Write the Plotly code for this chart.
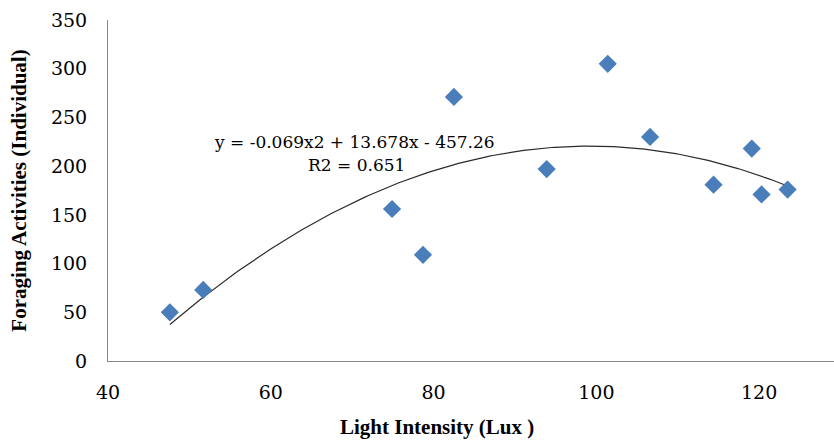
import numpy as np
import plotly.graph_objects as go

# Data
light_lux = [47.6, 51.7, 74.9, 78.7, 82.5, 93.9, 101.4, 106.6, 114.4, 119.1, 120.3, 123.5]
foraging = [50, 73, 156, 109, 271, 197, 305, 230, 181, 218, 171, 176]

# Polynomial trendline (order 2) as reported on the chart
trend_coeffs = [-0.069, 13.678, -457.26]
r_squared = 0.651

x_ticks = [40, 60, 80, 100, 120]
y_ticks = [0, 50, 100, 150, 200, 250, 300, 350]

xt = np.linspace(min(light_lux), max(light_lux), 200)
yt = np.polyval(trend_coeffs, xt)

fig = go.Figure()
fig.add_trace(go.Scatter(
    x=xt, y=yt, mode="lines",
    line=dict(color="#2b2b2b", width=1.2),
    hoverinfo="skip", showlegend=False,
))
fig.add_trace(go.Scatter(
    x=light_lux, y=foraging, mode="markers",
    marker=dict(symbol="diamond", size=14, color="#4A7EBB", line=dict(width=0)),
    showlegend=False,
))

eq_text = "y = %gx2 + %gx - %g" % (trend_coeffs[0], trend_coeffs[1], -trend_coeffs[2])
r2_text = "R2 = %g" % r_squared

fig.add_annotation(x=70.3, y=225, xref="x", yref="y", text=eq_text, showarrow=False,
                   font=dict(family="DejaVu Serif", size=17, color="#000000"))
fig.add_annotation(x=70.5, y=201, xref="x", yref="y", text=r2_text, showarrow=False,
                   font=dict(family="DejaVu Serif", size=17, color="#000000"))

# X axis title (placed slightly left of the plot-area centre, as in the reference)
fig.add_annotation(x=0.453, y=-0.1935, xref="paper", yref="paper",
                   xanchor="center", yanchor="middle",
                   text="<b>Light Intensity (Lux )</b>", showarrow=False,
                   font=dict(family="Liberation Serif", size=21, color="#000000"))

fig.update_layout(
    width=834, height=441,
    margin=dict(l=108, r=0, t=20, b=80),
    plot_bgcolor="white", paper_bgcolor="white",
    font=dict(family="DejaVu Serif", color="#000000"),
)
fig.update_xaxes(
    range=[40, 129.2], tickvals=x_ticks, ticktext=[str(v) for v in x_ticks],
    showgrid=False, zeroline=False, showline=True, linecolor="#868686", linewidth=1,
    ticks="", ticklabelstandoff=14, tickfont=dict(family="DejaVu Serif", size=19),
)
fig.update_yaxes(
    range=[0, 350], tickvals=y_ticks, ticktext=[str(v) for v in y_ticks],
    showgrid=False, zeroline=False, showline=True, linecolor="#868686", linewidth=1,
    ticks="", ticklabelstandoff=16, tickfont=dict(family="DejaVu Serif", size=19),
    title=dict(text="Foraging Activities (Individual)", standoff=18,
               font=dict(family="Liberation Serif", size=21, weight="bold")),
)

fig.write_html("out.html")
